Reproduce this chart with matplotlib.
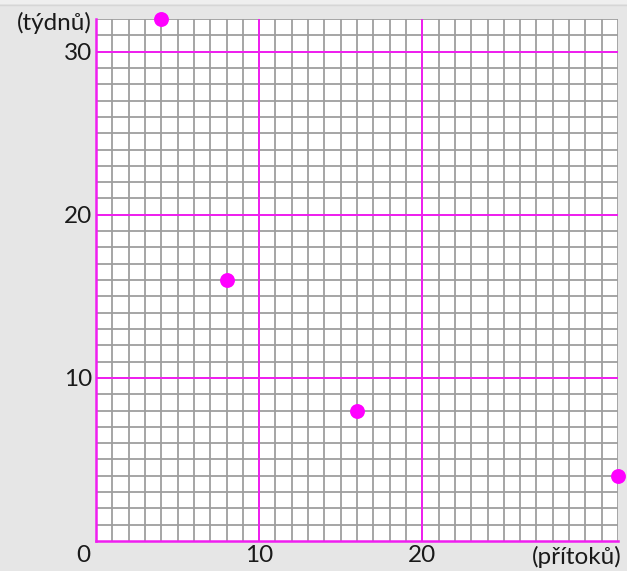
import numpy as np
import matplotlib
matplotlib.use("Agg")
import matplotlib.pyplot as plt
from matplotlib.patches import Rectangle

# inflows vs. weeks
inflows = [4, 8, 16, 32]
weeks = [32, 16, 8, 4]
x_major = [10, 20]
y_major = [10, 20, 30]
x_max = 32
y_max = 32

MAGENTA = "#f01ef0"
GRID = "#9e9e9e"
BG = "#e6e6e6"
TXT = "#1a1a1a"
FS = 17.5

plt.rcParams["font.family"] = ["Lato", "DejaVu Sans"]

W, H = 627, 571
fig = plt.figure(figsize=(W / 100, H / 100), dpi=100, facecolor=BG)

# light strip along the top edge
fig.patches.append(Rectangle((0, 1 - 4 / H), 1, 4 / H, transform=fig.transFigure,
                             facecolor="#efefef", edgecolor="none"))
fig.add_artist(plt.Line2D([0, 1], [1 - 4.5 / H, 1 - 4.5 / H],
                          transform=fig.transFigure, color="#d6d6d6", lw=1))

ax = fig.add_axes([96 / W, 30 / H, 522 / W, 522 / H])
ax.set_facecolor("white")
ax.set_xlim(0, x_max)
ax.set_ylim(0, y_max)

# fine grid every unit
for v in range(1, x_max + 1):
    ax.axvline(v, color=GRID, lw=1.3, zorder=1)
for v in range(1, y_max + 1):
    ax.axhline(v, color=GRID, lw=1.3, zorder=1)
# coarse grid every ten
for v in x_major:
    ax.axvline(v, color=MAGENTA, lw=1.4, zorder=2)
for v in y_major:
    ax.axhline(v, color=MAGENTA, lw=1.4, zorder=2)

for side in ["top", "right"]:
    ax.spines[side].set_visible(False)
for side in ["left", "bottom"]:
    ax.spines[side].set_color(MAGENTA)
    ax.spines[side].set_linewidth(1.8)
    ax.spines[side].set_zorder(3)

ax.scatter(inflows, weeks, s=115, color="#ff00ff", zorder=5, clip_on=False,
           linewidths=0)

ax.set_xticks(x_major)
ax.set_yticks(y_major)
ax.tick_params(length=0, labelsize=FS, colors=TXT, pad=3)
ax.set_xticklabels([str(v) for v in x_major])
ax.set_yticklabels([str(v) for v in y_major])

fig.text(83 / W, 1 - 556 / H, "0", ha="center", va="center", fontsize=FS,
         color=TXT)
fig.text(92 / W, 1 - 23 / H, "(týdnů)", ha="right", va="center", fontsize=FS,
         color=TXT)
fig.text(622 / W, 1 - 557 / H, "(přítoků)", ha="right", va="center",
         fontsize=FS, color=TXT)

fig.savefig("out.png", dpi=100, facecolor=BG)
